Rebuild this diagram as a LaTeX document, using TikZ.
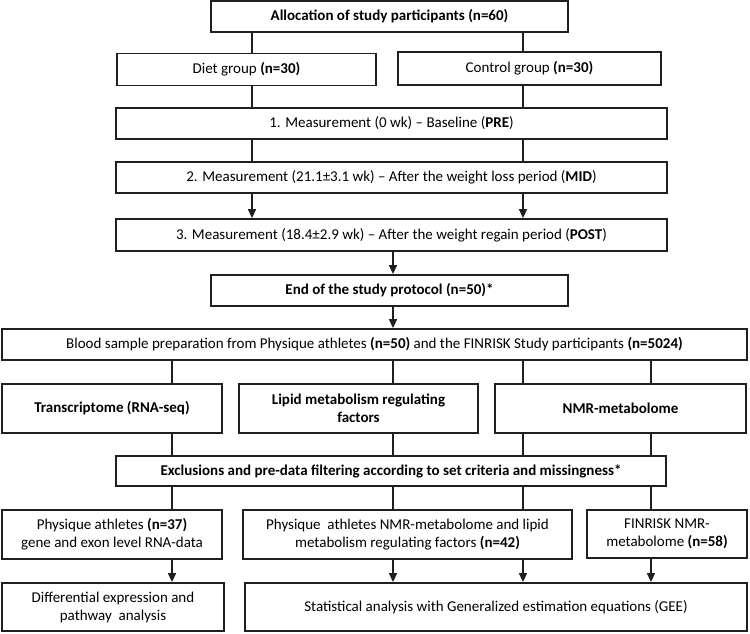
\documentclass[tikz,border=0pt]{standalone}
\usepackage{fontspec}
\setmainfont{Carlito}
\usepackage{tikz}
\usetikzlibrary{arrows.meta}

\begin{document}
\begin{tikzpicture}[x=1pt, y=-1pt,
    box/.style={draw=black!88, line width=1.8pt, inner sep=0pt, align=center,
      font=\fontsize{15}{18}\selectfont},
    conn/.style={draw=black!88, line width=1.5pt},
    arr/.style={conn, -{Triangle[width=8pt,length=9pt]}}]
  \useasboundingbox (0,0) rectangle (750,634);

  % x positions of the connectors
  \coordinate (xa) at (172,0);
  \coordinate (xb) at (252,0);
  \coordinate (xc) at (393,0);
  \coordinate (xd) at (523,0);
  \coordinate (xe) at (651,0);

  % study part
  \node[box, minimum width=357pt, minimum height=31pt] (alloc) at (389.5,16.5) {\textbf{Allocation of study participants (n=60)}};
  \node[box, minimum width=259pt, minimum height=32pt] (diet) at (246.5,69.5) {Diet group \textbf{(n=30)}};
  \node[box, minimum width=263pt, minimum height=33pt] (control) at (529.5,68.5) {Control group \textbf{(n=30)}};
  \node[box, minimum width=551pt, minimum height=31pt] (meas1) at (391.5,123.5) {1. Measurement (0 wk) -- Baseline (\textbf{PRE})};
  \node[box, minimum width=551pt, minimum height=31pt] (meas2) at (391.5,177.5) {2. Measurement (21.1±3.1 wk) -- After the weight loss period (\textbf{MID})};
  \node[box, minimum width=551pt, minimum height=32pt] (meas3) at (391.5,235) {3. Measurement (18.4±2.9 wk) -- After the weight regain period (\textbf{POST})};
  \node[box, minimum width=357pt, minimum height=31pt] (end) at (389.5,290.5) {\textbf{End of the study protocol (n=50)*}};

  % analysis part
  \node[box, minimum width=745pt, minimum height=31pt] (blood) at (374.5,344.5) {Blood sample preparation from Physique athletes \textbf{(n=50)} and the FINRISK Study participants \textbf{(n=5024)}};
  \node[box, minimum width=220pt, minimum height=49pt] (trans) at (112,408.5) {\textbf{Transcriptome (RNA-seq)}};
  \node[box, minimum width=239pt, minimum height=49pt] (lipid) at (358.5,408.5) {\textbf{Lipid metabolism regulating}\\\textbf{factors}};
  \node[box, minimum width=251pt, minimum height=49pt] (nmr) at (620.5,408.5) {\textbf{NMR-metabolome}};
  \node[box, minimum width=550pt, minimum height=30pt] (excl) at (391,471) {\textbf{Exclusions and pre-data filtering according to set criteria and missingness*}};
  \node[box, minimum width=220pt, minimum height=49pt] (phys) at (112,534.5) {Physique athletes \textbf{(n=37)}\\gene and exon level RNA-data};
  \node[box, minimum width=329pt, minimum height=49pt] (mid) at (407.5,534.5) {Physique\ \ athletes NMR-metabolome and lipid\\metabolism regulating factors \textbf{(n=42)}};
  \node[box, minimum width=160pt, minimum height=48pt] (fin) at (667,534) {FINRISK NMR-\\metabolome \textbf{(n=58)}};
  \node[box, minimum width=222pt, minimum height=48pt] (diff) at (113,607) {Differential expression and\\pathway\ \ analysis};
  \node[box, minimum width=502pt, minimum height=48pt] (stat) at (496,607) {Statistical analysis with Generalized estimation equations (GEE)};

  % plain connectors
  \foreach \s/\t/\x in {alloc/diet/xb, alloc/control/xd, diet/meas1/xb, control/meas1/xd,
      meas1/meas2/xb, meas1/meas2/xd, blood/trans/xa, blood/lipid/xc, blood/nmr/xd,
      blood/nmr/xe, trans/excl/xa, lipid/excl/xc, nmr/excl/xd, nmr/excl/xe,
      excl/phys/xa, excl/mid/xc, excl/mid/xd, excl/fin/xe}
    \draw[conn] (\s.south -| \x) -- (\t.north -| \x);

  % arrows
  \foreach \s/\t/\x in {meas2/meas3/xb, meas2/meas3/xd, meas3/end/xc, end/blood/xc,
      phys/diff/xa, mid/stat/xc, mid/stat/xd, fin/stat/xe}
    \draw[arr] (\s.south -| \x) -- (\t.north -| \x);
\end{tikzpicture}
\end{document}
